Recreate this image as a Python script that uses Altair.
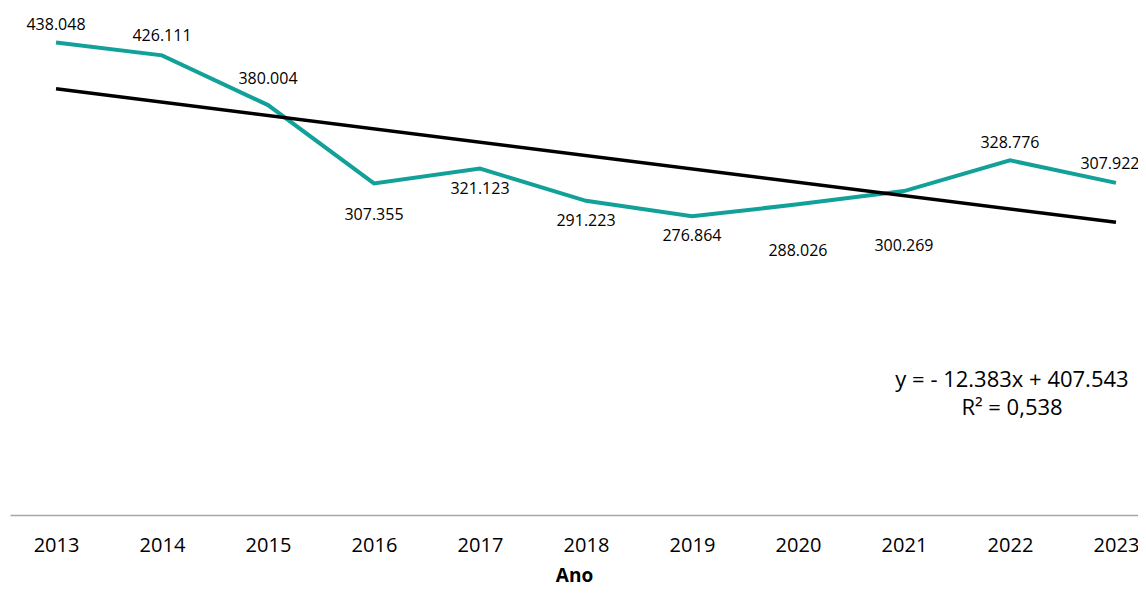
import altair as alt
import pandas as pd

years = [2013, 2014, 2015, 2016, 2017, 2018, 2019, 2020, 2021, 2022, 2023]
values = [438.048, 426.111, 380.004, 307.355, 321.123, 291.223, 276.864, 288.026, 300.269, 328.776, 307.922]
equation_lines = ["y = - 12.383x + 407.543", "R² = 0,538"]

df = pd.DataFrame({"Ano": years, "valor": values})

FONT = "Open Sans"
TEAL = "#12A198"

x = alt.X("Ano:Q",
          scale=alt.Scale(domain=[2012.566, 2023.208], nice=False, zero=False),
          axis=alt.Axis(values=years, format="d", ticks=False, tickSize=0, grid=False,
                        domainColor="#a6a6a6", domainWidth=1.5,
                        labelFontSize=20, labelFont=FONT, labelColor="#000000",
                        labelPadding=20, title="Ano", titleFont=FONT,
                        titleFontSize=19, titleFontWeight="bold", titleColor="#000000",
                        titlePadding=11))
y = alt.Y("valor:Q", scale=alt.Scale(domain=[0, 470], nice=False), axis=None)

base = alt.Chart(df)

line = base.mark_line(color=TEAL, strokeWidth=4).encode(x=x, y=y)

trend = base.transform_regression("Ano", "valor", extent=[2013, 2023]).mark_line(
    color="#000000", strokeWidth=3.5).encode(x=x, y=y)


def labels(sel, dy, dx=0):
    return base.transform_filter(
        alt.FieldOneOfPredicate(field="Ano", oneOf=sel)
    ).mark_text(font=FONT, fontSize=16, color="#000000", dy=dy, dx=dx, baseline="middle").encode(
        x=x, y=y, text=alt.Text("valor:Q", format=".3f"))


lab_layers = [
    labels([2013], -17),
    labels([2014], -19),
    labels([2022], -17),
    labels([2023], -19, -6),
    labels([2015], -26),
    labels([2016], 32),
    labels([2017, 2018, 2019], 20),
    labels([2020], 47),
    labels([2021], 55),
]

eq1 = alt.Chart(pd.DataFrame({"t": [equation_lines[0]]})).mark_text(
    font=FONT, fontSize=22, color="#000000", align="center", baseline="middle").encode(
    x=alt.value(1002), y=alt.value(372), text="t:N")
eq2 = alt.Chart(pd.DataFrame({"t": [equation_lines[1]]})).mark_text(
    font=FONT, fontSize=22, color="#000000", align="center", baseline="middle").encode(
    x=alt.value(1002), y=alt.value(400), text="t:N")

chart = alt.layer(line, trend, *lab_layers, eq1, eq2).properties(
    width=1128, height=507,
    padding={"left": 2, "top": 0, "right": 0, "bottom": 72},
    autosize=alt.AutoSizeParams(type="none"),
).configure_view(stroke=None)

chart.save("out.html", embed_options={"renderer": "svg", "actions": False})
